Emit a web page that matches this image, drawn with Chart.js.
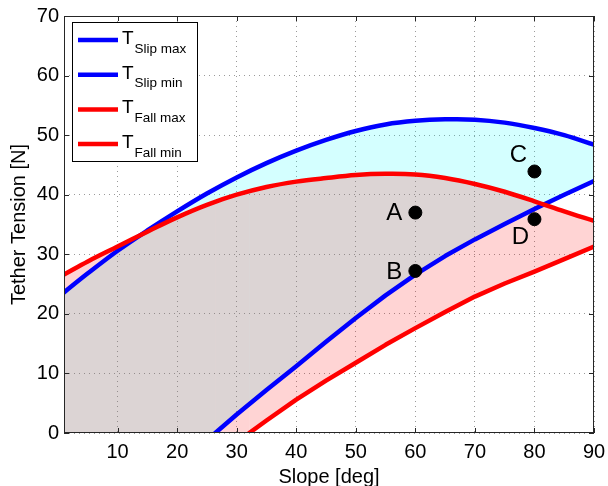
<!DOCTYPE html>
<html>
<head>
<meta charset="utf-8">
<script src="https://cdn.jsdelivr.net/npm/chart.js"></script>
<style>
  html, body { margin: 0; padding: 0; background: #fff; }
  canvas { display: block; }
</style>
</head>
<body>
<canvas id="tensionChart" width="608" height="486"></canvas>
<script>
// values
const slopeAngles = [1, 5, 10, 15, 20, 25, 30, 35, 40, 45, 50, 55, 60, 65, 70, 75, 80, 85, 90];
const slipMax = [23.6, 26.8, 30.6, 34.0, 37.2, 40.2, 42.9, 45.3, 47.4, 49.2, 50.7, 51.8, 52.4, 52.65, 52.6, 52.1, 51.2, 50.0, 48.4];
const fallMax = [26.6, 28.8, 31.3, 33.8, 36.2, 38.3, 40.0, 41.3, 42.2, 42.8, 43.3, 43.5, 43.4, 42.8, 41.8, 40.5, 38.9, 37.2, 35.6];

const slipMinAngles = [1, 26.4, 30, 35, 40, 45, 50, 55, 60, 65, 70, 75, 80, 85, 90];
const slipMin = [0, 0, 3.1, 7.2, 11.2, 15.3, 19.3, 23.1, 26.6, 29.7, 32.5, 35.1, 37.6, 40.0, 42.3];

const fallMinAngles = [1, 32.1, 35, 40, 45, 50, 55, 60, 65, 70, 75, 80, 85, 90];
const fallMin = [0, 0, 2.1, 5.6, 8.8, 11.8, 14.8, 17.6, 20.3, 22.9, 25.1, 27.1, 29.2, 31.3];

const pointNames = ['A', 'B', 'C', 'D'];
const pointSlopes = [60, 60, 80, 80];
const pointTensions = [37.0, 27.2, 43.9, 35.9];

const xTicks = [10, 20, 30, 40, 50, 60, 70, 80, 90];
const yTicks = [0, 10, 20, 30, 40, 50, 60, 70];

const legendSubs = ['Slip max', 'Slip min', 'Fall max', 'Fall min'];
const legendColors = ['#0000ff', '#0000ff', '#ff0000', '#ff0000'];
const FONT = '"Liberation Sans", Arial, Helvetica, sans-serif';

function toXY(xs, ys) {
  return xs.map((x, i) => ({ x: x, y: ys[i] }));
}

// hide the part of a min curve that runs along the zero line
const hideFlat = {
  borderColor: (ctx) => (ctx.p0.parsed.y === 0 && ctx.p1.parsed.y === 0) ? 'rgba(0,0,0,0)' : undefined
};

// letters next to the marked points
const pointLabels = {
  id: 'pointLabels',
  afterDatasetsDraw(chart) {
    const xs = chart.scales.x, ys = chart.scales.y;
    const offsets = { A: [-21, 1], B: [-21, 1], C: [-16, -16], D: [-14, 18] };
    const ctx = chart.ctx;
    ctx.save();
    ctx.fillStyle = '#000';
    ctx.font = '24px ' + FONT;
    ctx.textAlign = 'center';
    ctx.textBaseline = 'middle';
    pointNames.forEach((n, i) => {
      const px = xs.getPixelForValue(pointSlopes[i]);
      const py = ys.getPixelForValue(pointTensions[i]);
      ctx.fillText(n, px + offsets[n][0], py + offsets[n][1]);
    });
    ctx.restore();
  }
};

// matlab style box with inward ticks + legend with subscripts
const boxAndLegend = {
  id: 'boxAndLegend',
  afterDraw(chart) {
    const ctx = chart.ctx;
    const a = chart.chartArea;
    const xs = chart.scales.x, ys = chart.scales.y;
    ctx.save();
    ctx.strokeStyle = '#262626';
    ctx.lineWidth = 1;
    ctx.strokeRect(a.left + 0.5, a.top + 0.5, a.right - a.left - 1, a.bottom - a.top - 1);
    ctx.beginPath();
    xTicks.forEach(v => {
      const px = Math.round(xs.getPixelForValue(v)) + 0.5;
      ctx.moveTo(px, a.bottom); ctx.lineTo(px, a.bottom - 5);
      ctx.moveTo(px, a.top); ctx.lineTo(px, a.top + 5);
    });
    yTicks.forEach(v => {
      const py = Math.round(ys.getPixelForValue(v)) + 0.5;
      ctx.moveTo(a.left, py); ctx.lineTo(a.left + 5, py);
      ctx.moveTo(a.right, py); ctx.lineTo(a.right - 5, py);
    });
    ctx.stroke();

    // legend
    const bx = a.left + 8, by = a.top + 6, bw = 126, bh = 140;
    ctx.fillStyle = '#fff';
    ctx.fillRect(bx, by, bw, bh);
    ctx.strokeStyle = '#000';
    ctx.strokeRect(bx + 0.5, by + 0.5, bw - 1, bh - 1);
    legendSubs.forEach((sub, i) => {
      const ly = by + 18 + i * 34.7;
      ctx.strokeStyle = legendColors[i];
      ctx.lineWidth = 4.5;
      ctx.beginPath();
      ctx.moveTo(bx + 6, ly); ctx.lineTo(bx + 46, ly);
      ctx.stroke();
      ctx.fillStyle = '#000';
      ctx.textAlign = 'left';
      ctx.textBaseline = 'alphabetic';
      ctx.font = '19px ' + FONT;
      ctx.fillText('T', bx + 50, ly + 4);
      ctx.font = '13.5px ' + FONT;
      ctx.fillText(sub, bx + 62.5, ly + 12.5);
    });
    ctx.restore();
  }
};

const ctx = document.getElementById('tensionChart').getContext('2d');
new Chart(ctx, {
  type: 'line',
  data: {
    datasets: [
      {
        label: 'T Fall max',
        data: toXY(slopeAngles, fallMax),
        borderColor: '#ff0000',
        backgroundColor: 'rgba(255,0,0,0.17)',
        fill: 1
      },
      {
        label: 'T Fall min',
        data: toXY(fallMinAngles, fallMin),
        borderColor: '#ff0000',
        fill: false,
        tension: 0,
        segment: hideFlat
      },
      {
        label: 'T Slip max',
        data: toXY(slopeAngles, slipMax),
        borderColor: '#0000ff',
        backgroundColor: 'rgba(0,255,255,0.17)',
        fill: 3
      },
      {
        label: 'T Slip min',
        data: toXY(slipMinAngles, slipMin),
        borderColor: '#0000ff',
        fill: false,
        tension: 0,
        segment: hideFlat
      },
      {
        type: 'scatter',
        label: 'points',
        data: toXY(pointSlopes, pointTensions),
        backgroundColor: '#000',
        borderColor: '#000',
        pointRadius: 6.5,
        order: -1
      }
    ]
  },
  options: {
    responsive: false,
    animation: false,
    devicePixelRatio: 1,
    layout: { padding: { top: 16, right: 14, left: 0, bottom: 0 } },
    elements: {
      line: { borderWidth: 4.5, tension: 0.35, borderCapStyle: 'round', borderJoinStyle: 'round' },
      point: { radius: 0, hoverRadius: 0 }
    },
    scales: {
      x: {
        type: 'linear',
        min: 1,
        max: 90,
        afterBuildTicks: (s) => { s.ticks = xTicks.map(v => ({ value: v })); },
        afterFit: (s) => { s.height = 53; s.paddingLeft = 0; s.paddingRight = 0; },
        grid: { color: '#9a9a9a', drawTicks: false },
        border: { display: false, dash: [1, 4] },
        ticks: { color: '#000', font: { family: FONT, size: 20 }, padding: 7, maxRotation: 0 },
        title: { display: true, text: 'Slope [deg]', color: '#000', font: { family: FONT, size: 20 }, padding: { top: 0, bottom: -3 } }
      },
      y: {
        min: 0,
        max: 70,
        afterBuildTicks: (s) => { s.ticks = yTicks.map(v => ({ value: v })); },
        afterFit: (s) => { s.width = 64; s.paddingTop = 0; s.paddingBottom = 0; },
        grid: { color: '#9a9a9a', drawTicks: false },
        border: { display: false, dash: [1, 4] },
        ticks: { color: '#000', font: { family: FONT, size: 20 }, padding: 5 },
        title: { display: true, text: 'Tether Tension [N]', color: '#000', font: { family: FONT, size: 20 }, padding: { top: 7, bottom: 0 } }
      }
    },
    plugins: {
      legend: { display: false },
      tooltip: { enabled: false },
      filler: { drawTime: 'beforeDatasetsDraw' }
    }
  },
  plugins: [pointLabels, boxAndLegend]
});
</script>
</body>
</html>
